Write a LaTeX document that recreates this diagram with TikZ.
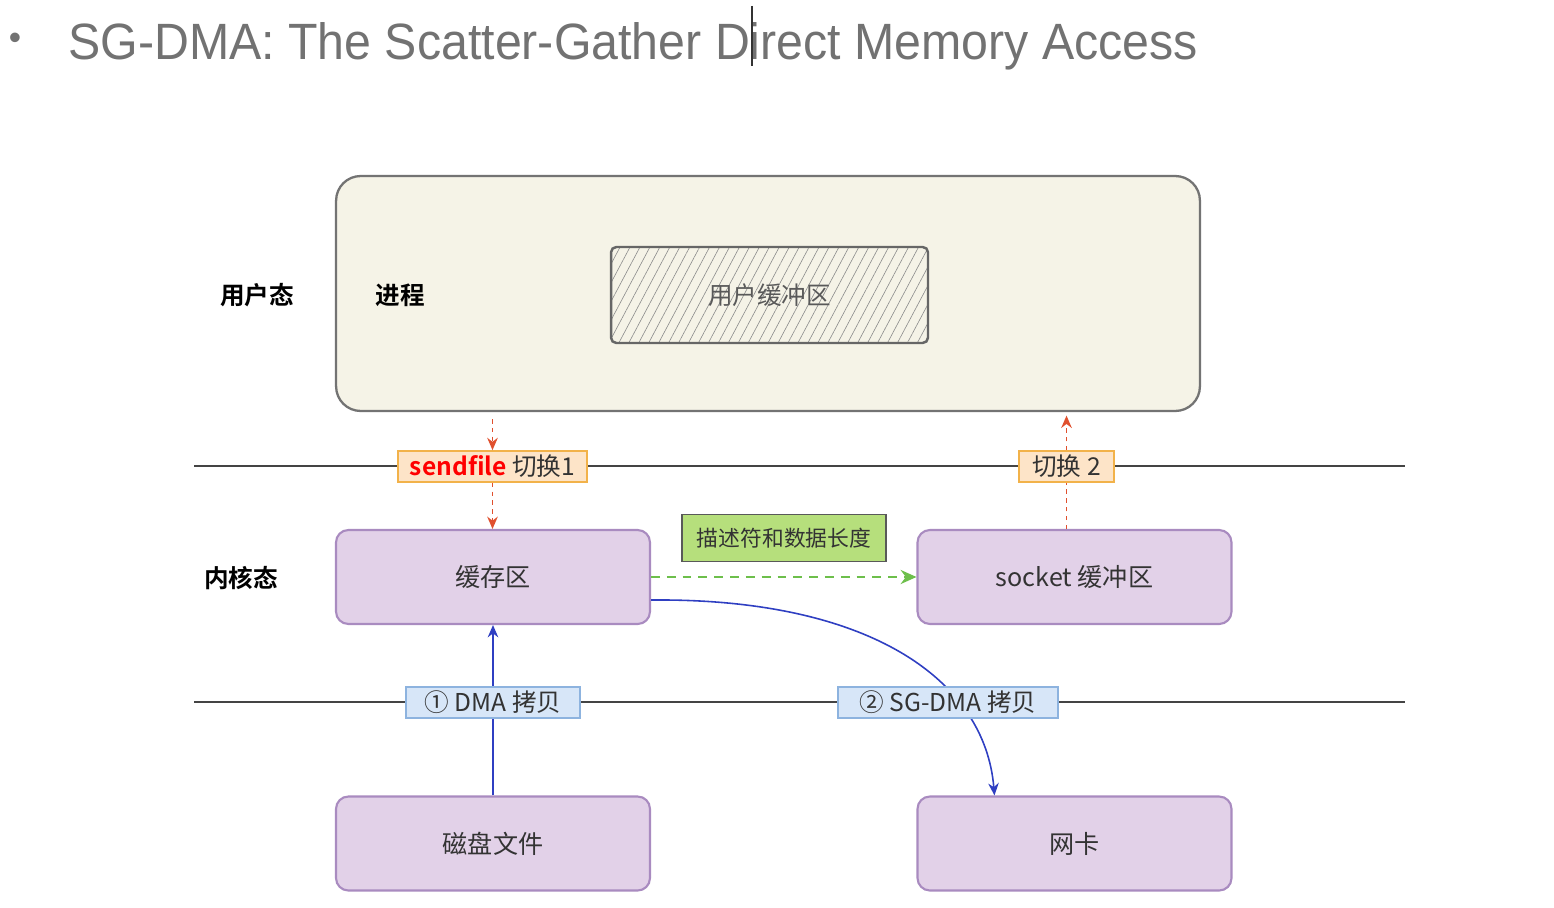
\documentclass[tikz,border=0pt]{standalone}
\usepackage{fontspec}
\setmainfont{Liberation Sans}
\newfontfamily\cjk{Noto Sans CJK SC}[BoldFont={Noto Sans CJK SC Bold}]
\usetikzlibrary{arrows.meta,calc,patterns.meta}
\definecolor{titlegray}{HTML}{727272}
\definecolor{beige}{HTML}{F5F3E7}
\definecolor{lav}{HTML}{E2D1E8}
\definecolor{lavb}{HTML}{A98BC0}
\definecolor{orfill}{HTML}{FDE4C8}
\definecolor{orb}{HTML}{F2B24A}
\definecolor{bluefill}{HTML}{D7E6F8}
\definecolor{blueb}{HTML}{8DB3DF}
\definecolor{grfill}{HTML}{B6DF7C}
\definecolor{grarrow}{HTML}{6DBF4B}
\definecolor{redarrow}{HTML}{E0502E}
\definecolor{bluearrow}{HTML}{2F3FC2}
\definecolor{txt}{HTML}{333333}
\definecolor{linec}{HTML}{444444}
\tikzset{
  purplebox/.style={draw=lavb, line width=1.2pt, fill=lav, rounded corners=7pt, minimum width=6.28cm, minimum height=1.88cm, inner sep=0pt, font=\cjk\fontsize{14.3}{16}\selectfont, text=txt},
  tag/.style={line width=1pt, inner sep=0pt, minimum height=0.62cm, font=\cjk\fontsize{14}{15}\selectfont, text=txt},
  sidelabel/.style={font=\cjk\bfseries\fontsize{14}{16}\selectfont, text=black},
  sepline/.style={draw=linec, line width=1.1pt},
  redflow/.style={draw=redarrow, line width=1pt, dash pattern=on 2.5pt off 2.5pt, -{Stealth[length=7pt,width=6pt]}},
}
\begin{document}
\begin{tikzpicture}[x=0.02cm, y=-0.02cm]
\useasboundingbox (0,0) rectangle (1554,908);
\fill[white] (0,0) rectangle (1554,908);
% title
\node[anchor=base, text=titlegray, font=\fontsize{20}{24}\selectfont] (bullet) at (15,50) {•};
\node[anchor=base west, inner sep=0pt, text=titlegray] (title) at (68,60) {\resizebox{22.6cm}{0.74cm}{SG-DMA: The Scatter-Gather Direct Memory Access}};
\coordinate (cur1) at (752,6);
\coordinate (cur2) at (752,66);
\draw[line width=0.6pt, black!80] (cur1) -- (cur2);
% separator lines
\coordinate (l1a) at (194,466); \coordinate (l1b) at (1405,466);
\coordinate (l2a) at (194,702); \coordinate (l2b) at (1405,702);
\draw[sepline] (l1a) -- (l1b);
\draw[sepline] (l2a) -- (l2b);
% user space
\node[draw=black!55, line width=1.3pt, fill=beige, rounded corners=14pt, minimum width=17.28cm, minimum height=4.7cm] (top) at (768,293.5) {};
\node[draw=black!60, line width=1.4pt, rounded corners=3pt, minimum width=6.34cm, minimum height=1.92cm, pattern={Lines[angle=62,distance=5pt,line width=0.35pt]}, pattern color=black!45] (ubufp) at (769.5,295) {};
\node[font=\cjk\fontsize{14}{16}\selectfont, text=black!65] (ubuf) at (769.5,295) {用户缓冲区};
\node[sidelabel] (userstate) at (257,295) {用户态};
\node[sidelabel] (proc) at (400,295) {进程};
% kernel
\node[sidelabel] (kstate) at (241,578) {内核态};
\node[purplebox] (cache) at (493,577) {缓存区};
\node[purplebox] (sock) at (1074.5,577) {socket 缓冲区};
\node[purplebox] (disk) at (493,843.5) {磁盘文件};
\node[purplebox] (nic) at (1074.5,843.5) {网卡};
% tags
\node[tag, draw=orb, fill=orfill, minimum width=3.78cm] (sw1) at (492.5,466.5) {\textcolor{red}{\bfseries sendfile} 切换1};
\node[tag, draw=orb, fill=orfill, minimum width=1.9cm] (sw2) at (1066.5,466.5) {切换 2};
\node[tag, draw=black!65, fill=grfill, minimum width=4.08cm, minimum height=0.94cm, font=\cjk\fontsize{12.4}{15}\selectfont] (desc) at (784,538) {描述符和数据长度};
% arrows
\draw[redflow, shorten <=4pt] (top.south -| sw1) -- (sw1.north);
\draw[redflow] (sw1.south) -- (cache.north -| sw1);
\draw[draw=redarrow, line width=1pt, dash pattern=on 2.5pt off 2.5pt] (sock.north -| sw2) -- (sw2.south);
\draw[redflow, shorten >=2pt] (sw2.north) -- (top.south -| sw2);
\draw[draw=grarrow, line width=1.3pt, dash pattern=on 5pt off 4pt, -{Stealth[length=9pt,width=8pt]}] (cache.east) -- (sock.west);
\draw[draw=bluearrow, line width=0.9pt, -{Stealth[length=7pt,width=6pt]}] (disk.north) -- (cache.south);
\coordinate (cstart) at ($(cache.east)+(0,23)$);
\coordinate (nictop) at ($(nic.north west)+(78,0)$);
\draw[draw=bluearrow, line width=0.9pt, -{Stealth[length=7pt,width=6pt]}] (cstart) .. controls (870,598) and (985,680) .. (nictop);
\node[tag, draw=blueb, fill=bluefill, minimum width=3.48cm] (dma1) at (493,702.5) {① DMA 拷贝};
\node[tag, draw=blueb, fill=bluefill, minimum width=4.4cm] (dma2) at (948,702.5) {② SG-DMA 拷贝};
\end{tikzpicture}
\end{document}
